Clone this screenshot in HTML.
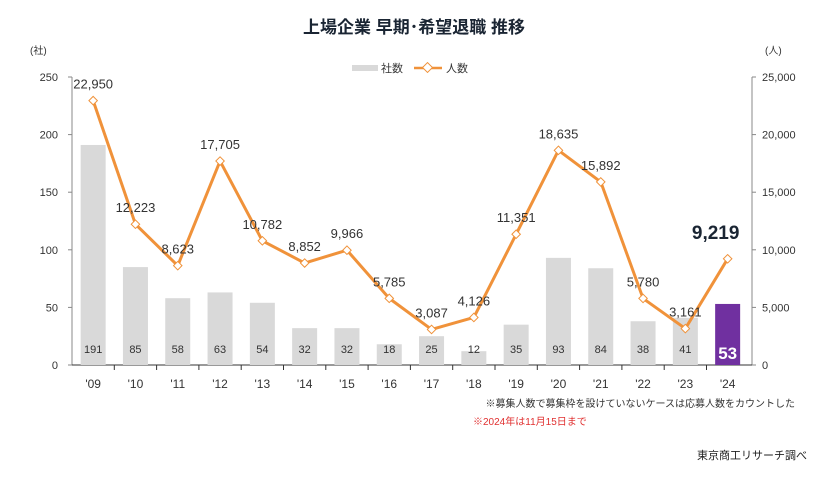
<!DOCTYPE html>
<html><head><meta charset="utf-8"><style>
body{margin:0;background:#fff;width:829px;height:475px;overflow:hidden;font-family:"Liberation Sans","Noto Sans CJK JP",sans-serif}
svg text{font-family:"Liberation Sans","Noto Sans CJK JP",sans-serif}
</style></head><body>
<svg id="c" width="829" height="475">
<text x="414" y="33" text-anchor="middle" font-size="17" font-weight="bold" fill="#1a2533">上場企業 早期･希望退職 推移</text>
<g>
<rect x="352" y="65" width="26" height="6" fill="#d9d9d9"/>
<text x="381" y="72" font-size="11" fill="#333">社数</text>
<line x1="414" y1="68" x2="442" y2="68" stroke="#f0923a" stroke-width="2.5"/>
<rect x="424" y="64" width="7" height="7" fill="#fff" stroke="#f0923a" transform="rotate(45 427.5 67.5)"/>
<text x="446" y="72" font-size="11" fill="#333">人数</text>
</g>
<text x="30" y="54" font-size="10" fill="#333">(社)</text>
<text x="765" y="54" font-size="10" fill="#333">(人)</text>
<g id="g"></g>
<text x="795" y="407" text-anchor="end" font-size="10" fill="#333">※募集人数で募集枠を設けていないケースは応募人数をカウントした</text>
<text x="473" y="425" font-size="10" fill="#e03030">※2024年は11月15日まで</text>
<text x="807" y="459" text-anchor="end" font-size="11" fill="#222">東京商工リサーチ調べ</text>
</svg>
<script>
const categories=["'09","'10","'11","'12","'13","'14","'15","'16","'17","'18","'19","'20","'21","'22","'23","'24"];
const companies=[191,85,58,63,54,32,32,18,25,12,35,93,84,38,41,53];
const people=[22950,12223,8623,17705,10782,8852,9966,5785,3087,4126,11351,18635,15892,5780,3161,9219];
const leftTicks=[0,50,100,150,200,250];
const rightTicks=[0,5000,10000,15000,20000,25000];
const NS="http://www.w3.org/2000/svg";
const g=document.getElementById('g');
const X0=72,STEP=42.3,Y0=365,H=288;
const xc=i=>X0+STEP*(i+0.5);
const yl=v=>Y0-v/250*H;
const yr=v=>Y0-v/25000*H;
function el(t,a,txt){const e=document.createElementNS(NS,t);for(const k in a)e.setAttribute(k,a[k]);if(txt!==undefined)e.textContent=txt;g.appendChild(e);return e;}
// axes
let e=el('line',{x1:X0,y1:yl(250),x2:X0,y2:Y0,stroke:'#888'});


e=el('line',{x1:752,y1:yr(25000),x2:752,y2:Y0,stroke:'#888'});


e=el('line',{x1:X0,y1:Y0,x2:752,y2:Y0,stroke:'#333'});


leftTicks.forEach(v=>{
 el('line',{x1:X0-4,y1:yl(v),x2:X0,y2:yl(v),stroke:'#888'});
 const t=el('text',{x:58,y:yl(v)+4,'text-anchor':'end','font-size':11,fill:'#333'},v);
 
 
});
rightTicks.forEach(v=>{
 el('line',{x1:752,y1:yr(v),x2:756,y2:yr(v),stroke:'#888'});
 const t=el('text',{x:762,y:yr(v)+4,'font-size':11,fill:'#333'},v.toLocaleString('en-US'));
 
 
});
for(let k=1;k<categories.length;k++){el('line',{x1:X0+STEP*k,y1:Y0,x2:X0+STEP*k,y2:Y0+5,stroke:'#333'});}
categories.forEach((c,i)=>{
 const last=i===categories.length-1;
 const b=el('rect',{x:xc(i)-12.5,y:yl(companies[i]),width:25,height:Y0-yl(companies[i]),fill:last?'#7030a0':'#d9d9d9'});
 
 
 const bl=el('text',{x:xc(i),y:last?Y0-6:Y0-12,'text-anchor':'middle','font-size':last?17:11,'font-weight':last?'bold':'normal',fill:last?'#fff':'#333'},companies[i]);
 
 
 const xl=el('text',{x:xc(i),y:388,'text-anchor':'middle','font-size':12,fill:'#333'},c);
 
 
});
const pts=people.map((v,i)=>xc(i)+','+yr(v)).join(' ');
e=el('polyline',{points:pts,fill:'none',stroke:'#f0923a','stroke-width':3,'stroke-linejoin':'round'});


people.forEach((v,i)=>{
 const last=i===people.length-1;
 const m=el('rect',{x:xc(i)-3,y:yr(v)-3,width:6,height:6,fill:'#fff',stroke:'#f0923a',transform:`rotate(45 ${xc(i)} ${yr(v)})`});
 
 
 const t=el('text',{x:last?xc(i)-12:xc(i),y:last?yr(v)-20:yr(v)-12,'text-anchor':'middle','font-size':last?19:13,'font-weight':last?'bold':'normal',fill:last?'#1a2533':'#333'},v.toLocaleString('en-US'));
 
 
});
</script>
</body></html>
